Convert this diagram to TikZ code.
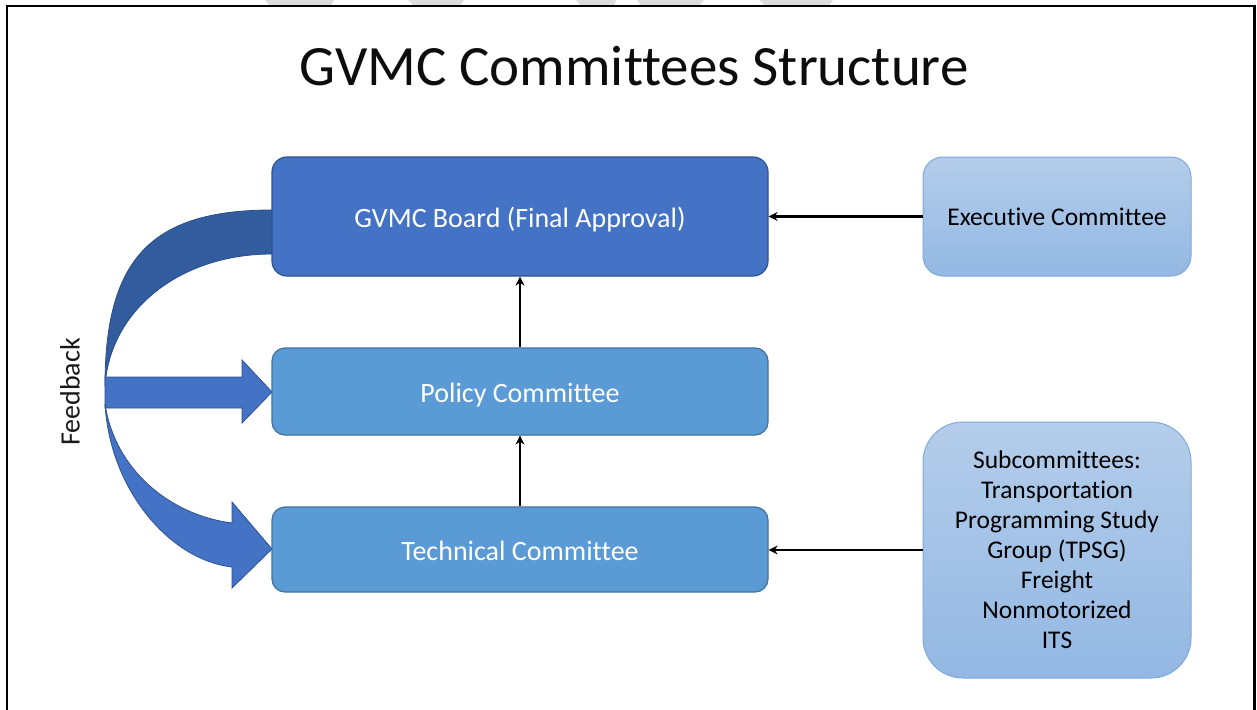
\documentclass[tikz,border=0pt]{standalone}
\usepackage{fontspec}
\setmainfont{Carlito}[Ligatures=CommonOff]
\usetikzlibrary{arrows.meta}
\definecolor{boardfill}{HTML}{4472C4}
\definecolor{boardline}{HTML}{2F528F}
\definecolor{midfill}{HTML}{5B9BD5}
\definecolor{midline}{HTML}{41719C}
\definecolor{lighttop}{HTML}{B4CDEA}
\definecolor{lightbot}{HTML}{93B8E3}
\definecolor{lightline}{HTML}{7FA9DC}
\definecolor{darkband}{HTML}{325C9E}
\definecolor{wmark}{HTML}{DDDDDD}
\tikzset{
  boardbox/.style={draw=boardline, line width=1.2pt, fill=boardfill, rounded corners=15pt,
    minimum width=496pt, minimum height=119pt, inner sep=0pt, text=white,
    text height=23pt, text depth=1pt,
    font=\fontsize{28}{32}\selectfont},
  midbox/.style={draw=midline, line width=1.2pt, fill=midfill, rounded corners=13pt,
    minimum width=496pt, inner sep=0pt, text=white,
    text height=23pt, text depth=1pt,
    font=\fontsize{28}{32}\selectfont},
  lightbox/.style={draw=lightline, line width=1pt, top color=lighttop, bottom color=lightbot,
    minimum width=268pt, inner sep=0pt, text=black, align=center,
    font=\fontsize{25.5}{30}\selectfont},
  conn/.style={line width=2.5pt, -{Stealth[length=9pt,width=9pt]}},
  blockarrow/.style={fill=boardfill, draw=boardline, line width=0.8pt},
}
\begin{document}
\begin{tikzpicture}[x=1pt,y=-1pt]
\useasboundingbox (0,0) rectangle (1257,709);
\fill[white] (0,0) rectangle (1257,709);
% faint watermark remnants
\fill[wmark] (265,0) -- (334,0) -- (331,6) -- (270,6) -- cycle;
\fill[wmark] (408,0) -- (464,0) -- (460,6) -- (414,6) -- cycle;
\fill[wmark] (576,0) -- (616,0) -- (614,6) -- (581,6) -- cycle;
\fill[wmark] (637,0) -- (704,0) -- (699,6) -- (641,6) -- cycle;
\fill[wmark] (759,0) -- (833,0) -- (829,6) -- (766,6) -- cycle;
% frame
\draw[line width=2.2pt] (7,712) -- (7,6) -- (1254.5,6) -- (1254.5,712);
% title
\node[font=\fontsize{57}{62}\selectfont, text=black!95] (title) at (634,66) {GVMC Committees Structure};
% feedback block arrows
\path[fill=darkband, draw=darkband!85!black, line width=0.8pt]
  (285,210) -- (272,210) .. controls (150,210) and (105,260) .. (105,386)
  .. controls (110,310) and (180,254) .. (272,254) -- (285,254) -- cycle;
\path[blockarrow]
  (105,377) -- (242,377) -- (242,360) -- (272,392) -- (242,423) -- (242,408) -- (105,408) -- cycle;
\path[blockarrow]
  (105,404) .. controls (110,490) and (170,560) .. (232,567) -- (232,588) -- (272,549)
  -- (232,502) -- (232,523) .. controls (170,515) and (115,470) .. (105,404) -- cycle;
\node[rotate=90, font=\fontsize{28}{32}\selectfont, text=black!90] (fb) at (70,392) {Feedback};
% boxes
\node[boardbox] (board) at (520,216.5) {GVMC Board (Final Approval)};
\node[midbox, minimum height=87pt] (policy) at (520,391.5) {Policy Committee};
\node[midbox, minimum height=85pt] (tech) at (520,549.5) {Technical Committee};
\node[lightbox, minimum height=119pt, rounded corners=20pt] (exec) at (1057,216.5) {Executive Committee};
\node[lightbox, minimum height=256pt, rounded corners=40pt] (sub) at (1057,550)
  {Subcommittees:\\Transportation\\Programming Study\\Group (TPSG)\\Freight\\Nonmotorized\\ITS};
% connectors
\draw[conn] (policy.north) -- (board.south);
\draw[conn] (tech.north) -- (policy.south);
\draw[conn] (exec.west) -- (board.east);
\draw[conn] (sub.west) -- (sub.west -| tech.east);
\end{tikzpicture}
\end{document}
